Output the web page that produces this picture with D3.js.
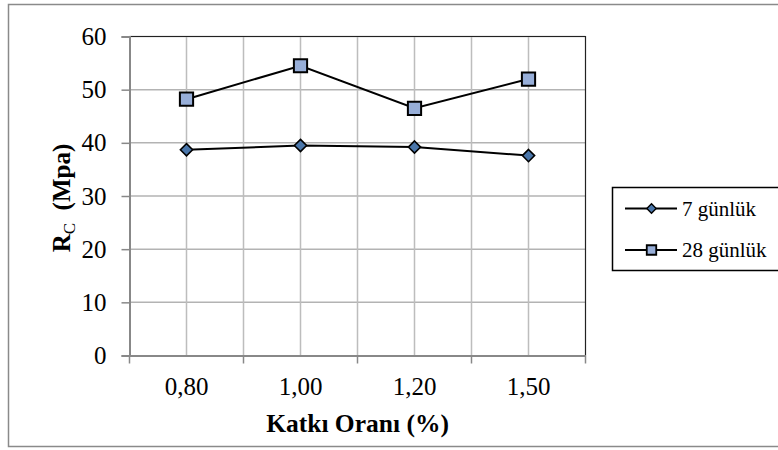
<!DOCTYPE html>
<html>
<head>
<meta charset="utf-8">
<script src="https://cdn.jsdelivr.net/npm/d3@7"></script>
<style>
  html, body { margin: 0; padding: 0; background: #fff; overflow: hidden; }
  svg { display: block; }
</style>
</head>
<body>
<svg id="chart" width="778" height="450"></svg>
<script>
// Additive ratio categories (x axis)
const categories = ["0,80", "1,00", "1,20", "1,50"];
// Compressive strength, MPa
const series7 = [38.7, 39.5, 39.2, 37.6];
const series28 = [48.2, 54.5, 46.5, 52.0];
const seriesNames = ["7 günlük", "28 günlük"];
const yTicks = [0, 10, 20, 30, 40, 50, 60];

const FONT = "Liberation Serif";
const svg = d3.select("#chart");
const W = 778;
const plot = { left: 129.5, top: 36.5, right: 585.5, bottom: 355.5 };

// Outer chart frame (runs off the right edge)
svg.append("path")
  .attr("d", `M${W},4.5H8.5V446.5H${W}`)
  .attr("fill", "none").attr("stroke", "#8a8a8a").attr("stroke-width", 1.5);

const x = d3.scaleBand().domain(categories).range([plot.left, plot.right]).padding(0);
const y = d3.scaleLinear().domain([0, 60]).range([plot.bottom, plot.top]);

// Grid: horizontal at each tick, vertical at category centres and boundaries
const grid = svg.append("g");
grid.selectAll("line.h").data(yTicks.filter(v => v > 0)).join("line")
  .attr("x1", plot.left).attr("x2", plot.right)
  .attr("y1", d => y(d)).attr("y2", d => y(d))
  .attr("stroke", "#b3b3b3").attr("stroke-width", 1.5);
const vPos = [];
categories.forEach((c, i) => {
  vPos.push(x(c) + x.bandwidth() / 2);
  if (i > 0) vPos.push(x(c));
});
grid.selectAll("line.v").data(vPos).join("line")
  .attr("x1", d => d).attr("x2", d => d)
  .attr("y1", plot.top).attr("y2", plot.bottom)
  .attr("stroke", "#bdbdbd").attr("stroke-width", 1.5);

// Plot area border (top and right)
svg.append("path")
  .attr("d", `M${plot.left},${plot.top}H${plot.right}V${plot.bottom}`)
  .attr("fill", "none").attr("stroke", "#222").attr("stroke-width", 1.2);

// Y axis
const yAxis = svg.append("g")
  .attr("transform", `translate(${plot.left},0)`)
  .call(d3.axisLeft(y).tickValues(yTicks).tickSize(8).tickPadding(15))
  .attr("font-family", FONT).attr("font-size", 25);
yAxis.select(".domain").attr("stroke", "#888").attr("stroke-width", 2);
yAxis.selectAll(".tick line").attr("stroke", "#888").attr("stroke-width", 1.5);
yAxis.selectAll(".tick text")
  .attr("font-family", FONT).attr("font-size", 25).attr("fill", "#000");

// X axis: ticks at category boundaries, labels at centres
const xAxis = svg.append("g")
  .attr("transform", `translate(0,${plot.bottom})`)
  .call(d3.axisBottom(x).tickSize(0).tickPadding(22))
  .attr("font-family", FONT).attr("font-size", 25);
xAxis.select(".domain").attr("stroke", "#888").attr("stroke-width", 2);
xAxis.selectAll(".tick text")
  .attr("font-family", FONT).attr("font-size", 25).attr("fill", "#000");
const bounds = categories.map(c => x(c)).concat([plot.right]);
xAxis.selectAll("line.bt").data(bounds).join("line")
  .attr("x1", d => d).attr("x2", d => d)
  .attr("y1", 0).attr("y2", 8)
  .attr("stroke", "#888").attr("stroke-width", 1.5);

// Axis titles
svg.append("text")
  .attr("x", (plot.left + plot.right) / 2).attr("y", 432)
  .attr("text-anchor", "middle")
  .attr("font-family", FONT)
  .attr("font-size", 25.5).attr("font-weight", "bold")
  .text("Katkı Oranı (%)");

const yTitle = svg.append("text")
  .attr("transform", `translate(70,${(plot.top + plot.bottom) / 2 + 2}) rotate(-90)`)
  .attr("text-anchor", "middle")
  .attr("font-family", FONT)
  .attr("font-size", 25).attr("font-weight", "bold");
yTitle.append("tspan").text("R");
yTitle.append("tspan").attr("font-size", 17).attr("font-weight", "normal")
  .attr("dy", 5).text("C");
yTitle.append("tspan").attr("dy", -5).text("\u00a0\u00a0(Mpa)");

// Series
const cx = c => x(c) + x.bandwidth() / 2;
const line = d3.line().x((d, i) => cx(categories[i])).y(d => y(d));

const styles = [
  { data: series7, sym: d3.symbol().type(d3.symbolDiamond2).size(95), fill: "#4a76aa", sw: 1.6 },
  { data: series28, sym: d3.symbol().type(d3.symbolSquare).size(175), fill: "#97aed8", sw: 2 }
];

styles.forEach(s => {
  svg.append("path").datum(s.data)
    .attr("d", line).attr("fill", "none")
    .attr("stroke", "#000").attr("stroke-width", 2);
  svg.append("g").selectAll("path").data(s.data).join("path")
    .attr("transform", (d, i) => `translate(${cx(categories[i])},${y(d)})`)
    .attr("d", s.sym)
    .attr("fill", s.fill).attr("stroke", "#000").attr("stroke-width", s.sw);
});

// Legend (box continues past the right edge)
const lg = svg.append("g");
lg.append("path")
  .attr("d", `M${W},187.5H612.5V270.5H${W}`)
  .attr("fill", "#fff").attr("stroke", "#000").attr("stroke-width", 1.5);
const legendSyms = [
  { sym: d3.symbol().type(d3.symbolDiamond2).size(55), fill: "#4a76aa", sw: 1.4 },
  { sym: d3.symbol().type(d3.symbolSquare).size(90), fill: "#97aed8", sw: 1.8 }
];
seriesNames.forEach((name, i) => {
  const ly = 208.5 + i * 41.5;
  lg.append("line").attr("x1", 625).attr("x2", 677).attr("y1", ly).attr("y2", ly)
    .attr("stroke", "#000").attr("stroke-width", 2);
  lg.append("path").attr("transform", `translate(651.5,${ly})`)
    .attr("d", legendSyms[i].sym)
    .attr("fill", legendSyms[i].fill).attr("stroke", "#000").attr("stroke-width", legendSyms[i].sw);
  lg.append("text").attr("x", 682).attr("y", ly + 7)
    .attr("font-family", FONT)
    .attr("font-size", 21).text(name);
});
</script>
</body>
</html>
